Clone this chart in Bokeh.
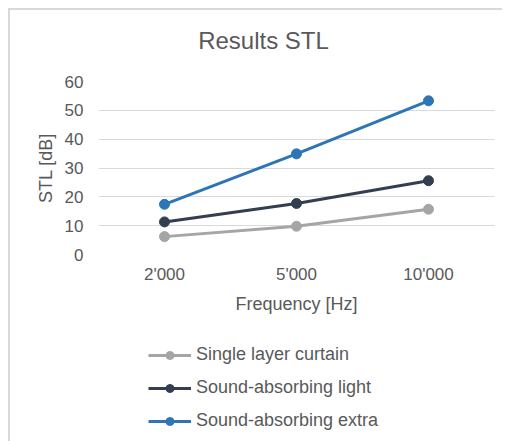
from bokeh.plotting import figure
from bokeh.layouts import column
from bokeh.models import ColumnDataSource, Legend, LegendItem, FactorRange, Label
from bokeh.embed import file_html
from bokeh.resources import INLINE

frequencies = ["2'000", "5'000", "10'000"]
single_layer = [6.2, 9.8, 15.7]
absorbing_light = [11.3, 17.7, 25.6]
absorbing_extra = [17.4, 34.9, 53.3]
series_names = ["Single layer curtain", "Sound-absorbing light", "Sound-absorbing extra"]
series_colors = ["#A5A5A5", "#333F50", "#2E75B6"]
y_ticks = [0, 10, 20, 30, 40, 50, 60]
chart_title = "Results STL"

FONT = "Liberation Sans"
TXT = "#595959"


def blank(fig):
    fig.axis.visible = False
    fig.grid.visible = False
    fig.outline_line_color = None
    fig.background_fill_color = "white"
    fig.border_fill_color = "white"


# title strip
pt = figure(width=492, height=45, output_backend="svg", toolbar_location=None,
            min_border=0, min_border_left=0, min_border_right=0, min_border_top=0, min_border_bottom=0)
blank(pt)
pt.add_layout(Label(x=165, y=15, x_units="screen", y_units="screen", text=chart_title,
                    text_align="center", text_baseline="middle", text_font=FONT,
                    text_font_size="24px", text_color=TXT))

# main chart
p = figure(
    x_range=FactorRange(*frequencies, range_padding=0),
    y_range=(0, 60),
    frame_width=396, frame_height=173,
    output_backend="svg", toolbar_location=None,
    min_border_left=88, min_border_right=8, min_border_top=26, min_border_bottom=60,
)
p.outline_line_color = None
p.background_fill_color = "white"
p.border_fill_color = "white"

p.yaxis.ticker = y_ticks
for ax in (p.xaxis, p.yaxis):
    ax.axis_line_color = None
    ax.major_tick_line_color = None
    ax.minor_tick_line_color = None
    ax.major_tick_out = 0
    ax.major_tick_in = 0
    ax.minor_tick_out = 0
    ax.minor_tick_in = 0
    ax.major_label_text_font = FONT
    ax.major_label_text_font_size = "17px"
    ax.major_label_text_color = TXT
    ax.axis_label_text_font = FONT
    ax.axis_label_text_font_size = "18px"
    ax.axis_label_text_color = TXT
    ax.axis_label_text_font_style = "normal"
p.xaxis.axis_label = "Frequency [Hz]"
p.yaxis.axis_label = "STL [dB]"
p.xaxis.major_label_standoff = 10
p.xaxis.axis_label_standoff = 7
p.yaxis.major_label_standoff = 15
p.yaxis.axis_label_standoff = 6

p.xgrid.grid_line_color = None
p.ygrid.grid_line_color = "#D9D9D9"
p.ygrid.grid_line_width = 1

for vals, col in zip([single_layer, absorbing_light, absorbing_extra], series_colors):
    src = ColumnDataSource(dict(x=frequencies, y=vals))
    p.line("x", "y", source=src, line_color=col, line_width=3)
    p.scatter("x", "y", source=src, size=10, fill_color=col, line_color=col)

# legend strip below the chart
pl = figure(width=492, height=127, output_backend="svg", toolbar_location=None,
            min_border=0, min_border_left=0, min_border_right=0, min_border_top=0, min_border_bottom=0)
blank(pl)

items = []
for name, col in zip(series_names, series_colors):
    lsrc = ColumnDataSource(dict(x=[float("nan")], y=[float("nan")]))
    lr1 = pl.line("x", "y", source=lsrc, line_color=col, line_width=3)
    lr2 = pl.scatter("x", "y", source=lsrc, size=6, fill_color=col, line_color=col)
    items.append(LegendItem(label=name, renderers=[lr1, lr2]))

legend = Legend(items=items, location=(50, 12), orientation="vertical",
                glyph_width=43, glyph_height=20, label_height=21, label_standoff=5,
                spacing=12, padding=0, margin=0, border_line_color=None,
                background_fill_alpha=0,
                label_text_font=FONT, label_text_font_size="18px", label_text_color=TXT)
pl.add_layout(legend, "center")

layout = column(pt, p, pl, spacing=0,
                styles={"margin-left": "8px", "margin-top": "8px",
                        "border-top": "2px solid #D9D9D9", "border-left": "2px solid #D9D9D9"})

open("out.html", "w").write(file_html(layout, INLINE))
